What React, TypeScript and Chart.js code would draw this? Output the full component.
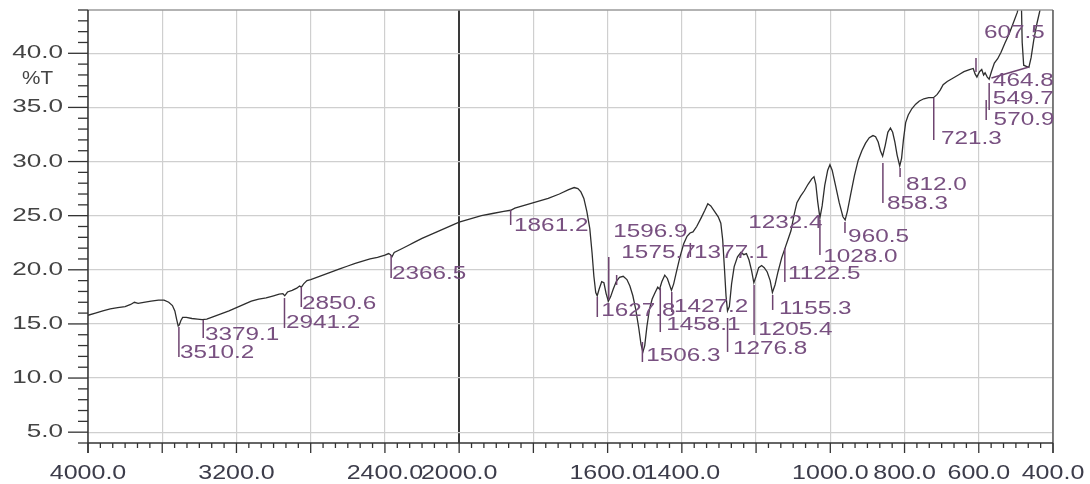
import React, { useEffect, useRef } from "react";
import { Chart, registerables } from "chart.js";

Chart.register(...registerables);

// ---- Spectrum (wavenumber cm-1, %T) ----
const wavenumbers = [
  4000, 3960, 3920, 3880, 3840, 3800, 3770, 3750, 3730, 3700, 3660, 3620, 3590, 3565, 3545, 3532, 3522, 3514, 3508, 3500,
  3490, 3470, 3440, 3410, 3385, 3360, 3320, 3280, 3240, 3200, 3160, 3120, 3080, 3040, 3000, 2970, 2950, 2940, 2925, 2900,
  2875, 2860, 2850, 2838, 2820, 2800, 2760, 2720, 2680, 2640, 2600, 2560, 2520, 2480, 2440, 2400, 2380, 2370, 2362, 2350,
  2320, 2280, 2240, 2200, 2160, 2120, 2080, 2040, 2000,
  1970, 1940, 1910, 1880, 1861, 1850, 1820, 1790, 1760, 1730, 1705, 1690, 1680, 1672, 1664, 1656, 1648, 1642, 1637, 1632,
  1628, 1623, 1616, 1610, 1604, 1598, 1592, 1585, 1577, 1568, 1558, 1548, 1540, 1532, 1524, 1516, 1510, 1505, 1500, 1494,
  1487, 1480, 1472, 1465, 1460, 1454, 1446, 1439, 1433, 1428, 1422, 1414, 1405, 1395, 1386, 1378, 1370, 1360, 1348, 1338,
  1330, 1322, 1312, 1302, 1295, 1290, 1285, 1281, 1277, 1272, 1266, 1259, 1250, 1241, 1233, 1226, 1219, 1212, 1206, 1200,
  1193, 1185, 1178, 1170, 1162, 1156, 1149, 1141, 1131, 1122, 1114, 1106, 1098, 1090, 1080, 1070, 1060, 1050, 1044, 1039,
  1034, 1028, 1022, 1015, 1007, 1001, 995, 986, 976, 966, 960, 954, 945, 935, 925, 915, 905, 895, 885, 878,
  871, 865, 859, 852, 845, 838, 832, 826, 820, 813, 808, 803, 797, 790, 780, 770, 760, 748, 735, 722,
  712, 704, 696, 685, 670, 655, 640, 625, 615, 610, 605, 598, 592, 587, 583, 577, 572, 566, 558, 549,
  540, 530, 518, 506, 496, 490, 486, 483, 479, 472, 465, 459, 452, 443, 435, 425, 410, 400,
];

const transmittance = [
  15.8, 16.0, 16.2, 16.4, 16.5, 16.6, 16.8, 17.0, 16.9, 17.0, 17.1, 17.2, 17.2, 17.0, 16.7, 16.2, 15.4, 14.8, 14.9, 15.3,
  15.6, 15.6, 15.5, 15.45, 15.4, 15.45, 15.7, 15.95, 16.2, 16.5, 16.8, 17.1, 17.3, 17.4, 17.6, 17.75, 17.8, 17.6, 17.95, 18.1,
  18.3, 18.5, 18.4, 18.7, 19.0, 19.1, 19.35, 19.6, 19.85, 20.1, 20.35, 20.6, 20.8, 21.0, 21.15, 21.35, 21.5, 21.4, 21.2, 21.6,
  21.85, 22.2, 22.55, 22.9, 23.2, 23.5, 23.8, 24.1, 24.4,
  24.7, 25.0, 25.2, 25.4, 25.5, 25.7, 26.0, 26.3, 26.6, 27.0, 27.4, 27.6, 27.5, 27.2, 26.6, 25.4, 23.8, 21.6, 19.4, 17.9,
  17.6, 18.2, 18.9, 18.8, 17.8, 17.1, 17.5, 18.2, 18.9, 19.3, 19.4, 19.1, 18.5, 17.6, 16.3, 14.6, 13.1, 12.4, 13.0, 14.8,
  16.4, 17.3, 17.9, 18.4, 18.2, 18.9, 19.5, 19.2, 18.6, 18.1, 18.7, 19.9, 21.2, 22.4, 23.1, 23.4, 23.5, 24.0, 24.8, 25.5,
  26.1, 25.9, 25.4, 24.9, 24.3, 22.8, 20.0, 17.6, 16.2, 16.6, 18.7, 20.3, 21.2, 21.6, 21.4, 21.5, 20.9, 19.9, 18.8, 19.4,
  20.2, 20.4, 20.2, 19.8, 19.0, 17.9, 18.6, 19.8, 21.1, 22.0, 22.8, 23.6, 25.0, 26.2, 26.8, 27.3, 27.9, 28.4, 28.6, 27.9,
  26.3, 24.8, 25.9, 27.8, 29.2, 29.7, 29.2, 27.8, 26.2, 24.9, 24.6, 25.4, 27.0, 28.7, 30.1, 31.0, 31.7, 32.2, 32.4, 32.3,
  31.8, 31.0, 30.5, 31.5, 32.7, 33.1, 32.7, 31.8, 30.6, 29.6, 30.3, 32.0, 33.6, 34.3, 34.9, 35.3, 35.6, 35.8, 35.9, 35.9,
  36.2, 36.6, 37.1, 37.4, 37.7, 38.0, 38.3, 38.5, 38.6, 38.1, 37.8, 38.3, 38.5, 38.0, 38.2, 37.8, 37.6, 38.3, 39.1, 39.5,
  40.1, 40.9, 41.8, 42.9, 43.8, 45.0, 46.0, 41.0, 38.9, 38.8, 38.7, 39.6, 41.2, 42.8, 44.0, 45.5, 47.0, 48.0,
];

// ---- Axes ----
const xTickValues = [4000, 3600, 3200, 2800, 2400, 2000, 1800, 1600, 1400, 1200, 1000, 800, 600, 400];
const xLabeledTicks = [4000, 3200, 2400, 2000, 1600, 1400, 1000, 800, 600, 400];
const yTickValues = [5, 10, 15, 20, 25, 30, 35, 40];
const yMin = 4;
const yMax = 44;
const yAxisTitle = "%T";

// ---- Peak annotations ----
const peakNames = [
  "3510.2", "3379.1", "2941.2", "2850.6", "2366.5", "1861.2", "1627.8", "1596.9", "1575.7", "1506.3",
  "1458.1", "1427.2", "1377.1", "1276.8", "1232.4", "1205.4", "1155.3", "1122.5", "1028.0", "960.5",
  "858.3", "812.0", "721.3", "607.5", "570.9", "549.7", "464.8",
];
const peakLineWn = [
  3510.2, 3379.1, 2941.2, 2850.6, 2366.5, 1861.2, 1627.8, 1596.9, 1575.7, 1506.3,
  1458.1, 1427.2, 1377.1, 1276.8, 1232.4, 1205.4, 1155.3, 1122.5, 1028.0, 960.5,
  858.3, 812.0, 721.3, 607.5, 580, 572, 464.8,
];
const peakLineEndWn = [
  3510.2, 3379.1, 2941.2, 2850.6, 2366.5, 1861.2, 1627.8, 1596.9, 1575.7, 1506.3,
  1458.1, 1427.2, 1377.1, 1276.8, 1232.4, 1205.4, 1155.3, 1122.5, 1028.0, 960.5,
  858.3, 812.0, 721.3, 607.5, 580, 572, 566,
];
const peakLineFrom = [
  14.72, 15.36, 17.39, 18.41, 21.37, 25.52, 17.49, 21.18, 19.52, 13.33,
  18.32, 17.95, 22.48, 15.55, 24.3, 18.6, 17.67, 22.01, 24.6, 24.42,
  29.87, 29.4, 35.87, 39.57, 35.69, 37.26, 38.73,
];
const peakLineTo = [
  11.94, 13.7, 14.62, 16.56, 19.24, 24.14, 15.64, 17.21, 18.6, 11.48,
  14.25, 16.1, 21.18, 12.41, 24.3, 13.98, 16.29, 18.87, 21.37, 23.4,
  26.17, 28.57, 31.99, 38.27, 33.84, 34.76, 37.72,
];
const peakTextWn = [
  3504, 3370, 2933, 2847, 2362, 1852, 1617, 1585, 1563, 1496,
  1442, 1421, 1367, 1262, 1221, 1194, 1138, 1114, 1019, 952,
  847, 796, 702, 586, 560, 562, 562,
];
const peakTextT = [
  12.31, 13.98, 15.09, 16.84, 19.61, 24.05, 16.19, 23.49, 21.55, 12.04,
  14.9, 16.56, 21.55, 12.68, 24.32, 14.44, 16.38, 19.61, 21.18, 23.03,
  26.08, 27.83, 32.1, 41.87, 33.84, 35.78, 37.44,
];

// piecewise wavenumber axis: 4000-2000 compressed by half
function toU(w: number): number {
  return w >= 2000 ? (4000 - w) / 2 : 1000 + (2000 - w);
}

const FONT = '"Liberation Sans", Arial, sans-serif';

function stretchedText(
  ctx: CanvasRenderingContext2D,
  text: string,
  x: number,
  y: number,
  sx: number,
  align: CanvasTextAlign
) {
  ctx.save();
  ctx.translate(x, y);
  ctx.scale(sx, 1);
  ctx.textAlign = align;
  ctx.textBaseline = "middle";
  ctx.fillText(text, 0, 0);
  ctx.restore();
}

const decorPlugin = {
  id: "decor",
  afterDraw(chart: any) {
    const { ctx, chartArea: a, scales } = chart;
    const xs = scales.x;
    const ys = scales.y;
    const X = (w: number) => xs.getPixelForValue(toU(w));
    const Y = (v: number) => ys.getPixelForValue(v);
    const seg = (x1: number, y1: number, x2: number, y2: number) => {
      ctx.beginPath();
      ctx.moveTo(x1, y1);
      ctx.lineTo(x2, y2);
      ctx.stroke();
    };
    ctx.save();
    // frame
    ctx.lineWidth = 1.5;
    ctx.strokeStyle = "#9a9a9a";
    seg(a.left, a.top, a.right, a.top);
    ctx.strokeStyle = "#5a5a5a";
    seg(a.right, a.top, a.right, a.bottom + 10);
    ctx.strokeStyle = "#333";
    seg(a.left, a.top, a.left, a.bottom + 10);
    seg(a.left, a.bottom, a.right, a.bottom);

    // x ticks (major + 5 minor)
    ctx.lineWidth = 1.3;
    const uMax = toU(400);
    const nSub = 6;
    const nMajor = Math.round(uMax / 200);
    for (let k = 0; k <= nMajor * nSub; k++) {
      const px = xs.getPixelForValue((k * 200) / nSub);
      const major = k % nSub === 0;
      seg(px, a.bottom, px, a.bottom + (major ? 10 : 5));
    }
    // y ticks
    for (let v = yMin; v <= yMax; v++) {
      const py = Y(v);
      const major = v % 5 === 0;
      seg(a.left - (major ? 20 : 10), py, a.left, py);
    }

    // tick labels
    ctx.fillStyle = "#3c3c4a";
    ctx.font = `20px ${FONT}`;
    xLabeledTicks.forEach((w) => {
      stretchedText(ctx, w.toFixed(1), X(w), a.bottom + 30, 1.25, "center");
    });
    ctx.fillStyle = "#444";
    ctx.font = `18px ${FONT}`;
    yTickValues.forEach((v) => {
      stretchedText(ctx, v.toFixed(1), a.left - 25, Y(v), 1.45, "right");
    });
    stretchedText(ctx, yAxisTitle, a.left - 66, Y(37.6), 1.15, "left");

    // peak markers
    ctx.strokeStyle = "#6e4470";
    ctx.lineWidth = 1.5;
    peakNames.forEach((_, i) => {
      if (peakLineFrom[i] !== peakLineTo[i]) {
        seg(X(peakLineWn[i]), Y(peakLineFrom[i]), X(peakLineEndWn[i]), Y(peakLineTo[i]));
      }
    });
    ctx.fillStyle = "#785080";
    ctx.font = `18px ${FONT}`;
    peakNames.forEach((name, i) => {
      stretchedText(ctx, name, X(peakTextWn[i]), Y(peakTextT[i]), 1.35, "left");
    });
    ctx.restore();
  },
};

export default function App() {
  const canvasRef = useRef<HTMLCanvasElement | null>(null);

  useEffect(() => {
    const canvas = canvasRef.current;
    if (!canvas) return;
    const points = wavenumbers.map((w, i) => ({ x: toU(w), y: transmittance[i] }));
    const chart = new Chart(canvas, {
      type: "line",
      data: {
        datasets: [
          {
            data: points,
            borderColor: "#2e2e2e",
            borderWidth: 1.3,
            pointRadius: 0,
            tension: 0,
            fill: false,
          },
        ],
      },
      options: {
        responsive: false,
        animation: false,
        devicePixelRatio: 1,
        layout: { padding: { left: 88, right: 37, top: 10, bottom: 41 } },
        plugins: { legend: { display: false }, tooltip: { enabled: false } },
        scales: {
          x: {
            type: "linear",
            min: 0,
            max: toU(400),
            afterBuildTicks: (scale: any) => {
              scale.ticks = xTickValues.map((w) => ({ value: toU(w) }));
            },
            ticks: { display: false },
            grid: {
              drawTicks: false,
              color: (c: any) => (c.tick && c.tick.value === toU(2000) ? "#3a3a3a" : "#cfcfcf"),
              lineWidth: (c: any) => (c.tick && c.tick.value === toU(2000) ? 2 : 1.2),
            },
            border: { display: false },
          },
          y: {
            type: "linear",
            min: yMin,
            max: yMax,
            afterBuildTicks: (scale: any) => {
              scale.ticks = yTickValues.map((v) => ({ value: v }));
            },
            ticks: { display: false },
            grid: { drawTicks: false, color: "#cfcfcf", lineWidth: 1.2 },
            border: { display: false },
          },
        },
      },
      plugins: [decorPlugin],
    });
    return () => chart.destroy();
  }, []);

  return (
    <div style={{ position: "fixed", left: 0, top: 0, width: 1090, height: 484, background: "#fff" }}>
      <canvas ref={canvasRef} width={1090} height={484} style={{ display: "block" }} />
    </div>
  );
}
